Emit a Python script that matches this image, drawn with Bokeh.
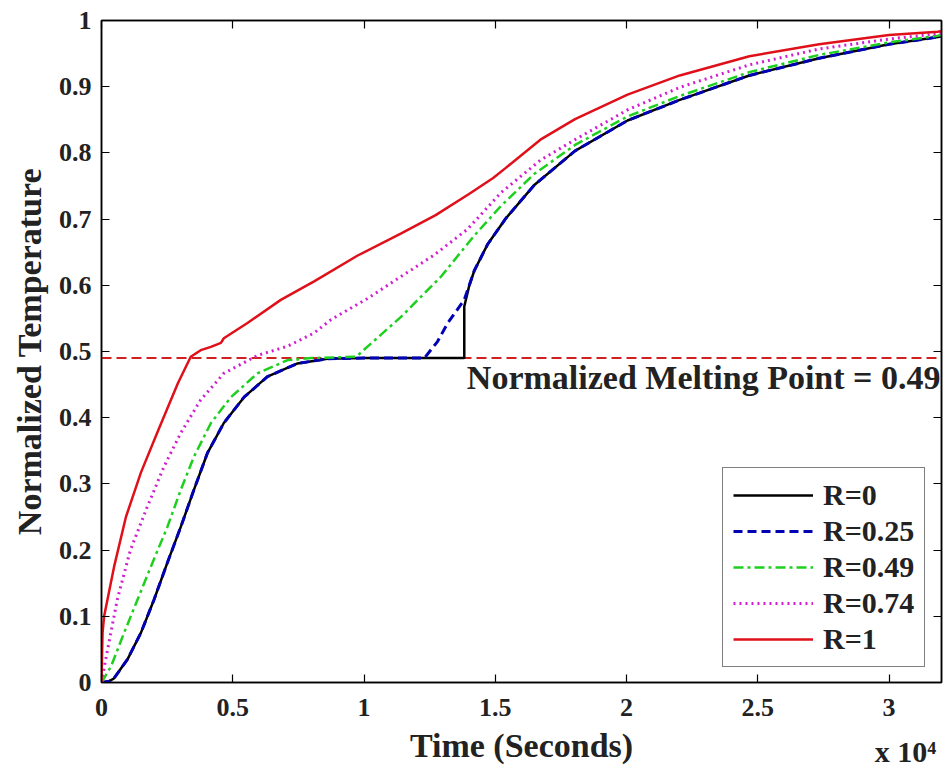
from bokeh.plotting import figure
from bokeh.models import FixedTicker, LinearAxis, Span, Label, Legend
from bokeh.embed import file_html
from bokeh.resources import INLINE

# ---------------- data (time in seconds, normalized temperature) ----------------
r0_x = [0, 300, 470, 990, 1500, 2000, 2510, 3020, 3520, 4040, 4660, 5430, 6320, 7470, 8610,
        10000, 12000, 13820, 13820, 14000, 14200, 14710, 15400, 16500, 18040, 20040, 22030,
        24680, 27340, 30000, 31860, 32000]
r0_y = [0, 0.002, 0.006, 0.035, 0.075, 0.125, 0.181, 0.235, 0.291, 0.347, 0.392, 0.431, 0.462,
        0.482, 0.489, 0.49, 0.49, 0.49, 0.568, 0.598, 0.622, 0.662, 0.701, 0.752, 0.803, 0.849,
        0.88, 0.917, 0.943, 0.964, 0.975, 0.976]

r025_x = [0, 300, 470, 990, 1500, 2000, 2510, 3020, 3520, 4040, 4660, 5430, 6320, 7470, 8610,
          10000, 12300, 12800, 13190, 13820, 14200, 14710, 15400, 16500, 18040, 20040, 22030,
          24680, 27340, 30000, 31860, 32000]
r025_y = [0, 0.002, 0.006, 0.035, 0.075, 0.125, 0.181, 0.235, 0.291, 0.347, 0.392, 0.431, 0.462,
          0.482, 0.489, 0.49, 0.49, 0.515, 0.543, 0.578, 0.622, 0.662, 0.701, 0.752, 0.803, 0.849,
          0.88, 0.917, 0.943, 0.964, 0.975, 0.976]

r049_x = [0, 360, 860, 1370, 1880, 2510, 3020, 3520, 4170, 4930, 5940, 7090, 8000, 9700,
          11400, 12930, 14200, 15220, 16480, 18040, 20040, 22030, 24680, 27340, 30000, 31860, 32000]
r049_y = [0, 0.024, 0.075, 0.125, 0.175, 0.235, 0.291, 0.341, 0.392, 0.431, 0.467, 0.487, 0.49,
          0.492, 0.552, 0.613, 0.675, 0.72, 0.768, 0.812, 0.855, 0.886, 0.922, 0.948, 0.967,
          0.977, 0.978]

r074_x = [0, 160, 600, 1100, 1750, 2380, 3020, 3780, 4660, 5940, 7090, 8100, 8740, 10130, 11400,
          12680, 13950, 15220, 16720, 18040, 20040, 22030, 24680, 27340, 30000, 31860, 32000]
r074_y = [0, 0.035, 0.125, 0.2, 0.266, 0.326, 0.377, 0.427, 0.467, 0.494, 0.508, 0.528, 0.548,
          0.58, 0.613, 0.646, 0.685, 0.74, 0.789, 0.82, 0.865, 0.899, 0.933, 0.957, 0.972, 0.98,
          0.981]

r1_x = [0, 40, 100, 480, 930, 1500, 2150, 2910, 3400, 3780, 4170, 4550, 4660, 5560, 6830,
        8100, 9760, 11400, 12730, 14000, 14920, 15390, 16720, 18040, 20040, 22030, 24680,
        27340, 30000, 31860, 32000]
r1_y = [0, 0.075, 0.1, 0.175, 0.25, 0.317, 0.38, 0.452, 0.492, 0.502, 0.507, 0.513, 0.52,
        0.543, 0.578, 0.606, 0.645, 0.678, 0.706, 0.738, 0.762, 0.777, 0.82, 0.851, 0.888,
        0.917, 0.946, 0.964, 0.978, 0.983, 0.984]

melting_point = 0.49
melting_text = "Normalized Melting Point = 0.49"
x_ticks = [0, 5000, 10000, 15000, 20000, 25000, 30000]
x_tick_labels = ["0", "0.5", "1", "1.5", "2", "2.5", "3"]
y_ticks = [0, 0.1, 0.2, 0.3, 0.4, 0.5, 0.6, 0.7, 0.8, 0.9, 1.0]
y_tick_labels = ["0", "0.1", "0.2", "0.3", "0.4", "0.5", "0.6", "0.7", "0.8", "0.9", "1"]
x_multiplier_label = "x 10\u2074"
x_multiplier_at = 30630

series = [
    ("R=0", r0_x, r0_y, "#000000", "solid", 2.5),
    ("R=0.25", r025_x, r025_y, "#0000b4", "9 5", 3),
    ("R=0.49", r049_x, r049_y, "#1ed01e", "10 4 3 4", 2.5),
    ("R=0.74", r074_x, r074_y, "#d21ed2", "2 4", 3),
    ("R=1", r1_x, r1_y, "#e0101a", "solid", 2.5),
]

FONT = "Liberation Serif"
TXT = "#222222"

p = figure(width=946, height=770, output_backend="svg", toolbar_location=None,
           x_range=(0, 32000), y_range=(0, 1),
           min_border_left=101, min_border_right=5, min_border_top=20, min_border_bottom=87)
p.grid.visible = False
p.outline_line_color = "black"
p.outline_line_width = 1.5
p.background_fill_color = "white"
p.border_fill_color = "white"

def style_axis(ax, ticks, labels=None, show_labels=True):
    ax.ticker = FixedTicker(ticks=ticks)
    ax.major_tick_in = 8
    ax.major_tick_out = 0
    ax.minor_tick_line_color = None
    ax.major_tick_line_color = "black"
    ax.major_tick_line_width = 1.2
    ax.axis_line_color = "black"
    ax.axis_line_width = 1.5
    if show_labels:
        ax.major_label_overrides = {t: l for t, l in zip(ticks, labels)}
        ax.major_label_text_font = FONT
        ax.major_label_text_font_style = "bold"
        ax.major_label_text_font_size = "26px"
        ax.major_label_text_color = TXT
    else:
        ax.major_label_text_color = None
        ax.major_label_text_font_size = "1px"
        ax.major_label_standoff = 0

style_axis(p.xaxis[0], x_ticks, x_tick_labels)
style_axis(p.yaxis[0], y_ticks, y_tick_labels)
p.xaxis[0].major_label_standoff = 16
p.yaxis[0].major_label_standoff = 10
p.xaxis[0].axis_label = "Time (Seconds)"
p.yaxis[0].axis_label = "Normalized Temperature"
for ax in (p.xaxis[0], p.yaxis[0]):
    ax.axis_label_text_font = FONT
    ax.axis_label_text_font_style = "bold"
    ax.axis_label_text_font_size = "34px"
    ax.axis_label_text_color = TXT
p.xaxis[0].axis_label_standoff = 8
p.yaxis[0].axis_label_standoff = 8

top = LinearAxis()
style_axis(top, x_ticks, show_labels=False)
p.add_layout(top, "above")
right = LinearAxis()
style_axis(right, y_ticks, show_labels=False)
p.add_layout(right, "right")

# multiplier "x 10^4" below the axis, at the right end
mult = LinearAxis(ticker=FixedTicker(ticks=[x_multiplier_at]),
                  major_label_overrides={x_multiplier_at: x_multiplier_label})
mult.axis_line_color = None
mult.major_tick_line_color = None
mult.minor_tick_line_color = None
mult.major_tick_out = 0
mult.major_tick_in = 0
mult.major_label_text_font = FONT
mult.major_label_text_font_style = "bold"
mult.major_label_text_font_size = "30px"
mult.major_label_text_color = TXT
mult.major_label_standoff = -32
p.add_layout(mult, "below")

melt = Span(location=melting_point, dimension="width", line_color="#d02020",
            line_dash="10 5", line_width=2, level="underlay")
p.add_layout(melt)

items = []
for name, xs, ys, color, dash, lw in series:
    r = p.line(xs, ys, line_color=color, line_dash=dash, line_width=lw)
    items.append((name, [r]))

legend = Legend(items=items, location=(621, 15))
legend.label_text_font = FONT
legend.label_text_font_style = "bold"
legend.label_text_font_size = "30px"
legend.label_text_color = TXT
legend.glyph_width = 80
legend.glyph_height = 30
legend.label_height = 30
legend.label_standoff = 10
legend.spacing = 2
legend.padding = 10
legend.margin = 0
legend.border_line_color = "black"
legend.border_line_width = 1.5
legend.background_fill_alpha = 1
p.add_layout(legend, "center")

p.add_layout(Label(x=31960, y=0.46, text=melting_text,
                   text_font=FONT, text_font_style="bold", text_font_size="34px",
                   text_color=TXT, text_align="right", text_baseline="alphabetic"))

open("out.html", "w").write(file_html(p, INLINE))
